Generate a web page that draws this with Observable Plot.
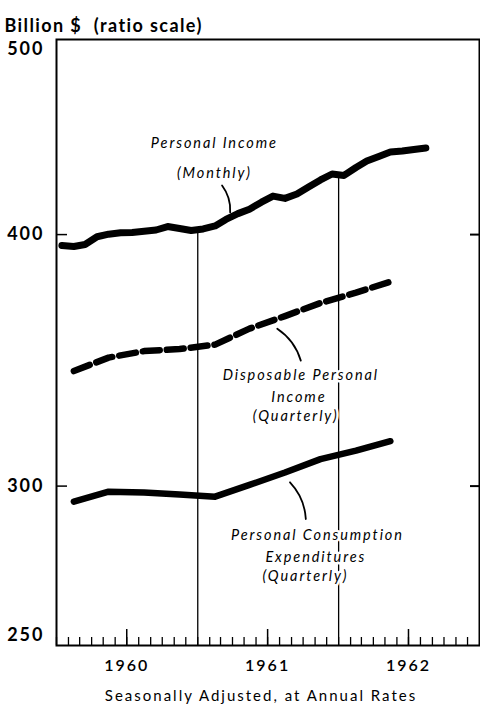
<!DOCTYPE html>
<html><head><meta charset="utf-8">
<script src="https://cdn.jsdelivr.net/npm/d3@7"></script>
<script src="https://cdn.jsdelivr.net/npm/@observablehq/plot@0.6"></script>
<style>
html,body{margin:0;padding:0;background:#fff;}
#chart svg{display:block;}
</style></head><body><div id="chart"></div>
<script>
// ---- data ----
const firstMonth = "1960-01";
const personalIncome = [395.0, 394.6, 395.5, 399.0, 400.2, 400.8, 401.0, 401.5, 402.1, 403.7, 402.8, 401.9,
  402.6, 404.0, 407.0, 409.7, 411.8, 415.1, 418.0, 416.9, 419.0, 422.4, 425.8, 428.7,
  428.0, 431.9, 435.1, 437.4, 439.6, 440.1, 440.9, 441.6];
const quarters = ["1960-Q1","1960-Q2","1960-Q3","1960-Q4","1961-Q1","1961-Q2","1961-Q3","1961-Q4","1962-Q1","1962-Q2"];
const disposableIncome = [342.2, 347.5, 350.1, 350.9, 352.7, 359.2, 364.4, 369.9, 374.3, 379.0];
const consumption = [294.7, 298.1, 297.8, 297.1, 296.4, 300.4, 304.7, 309.4, 312.4, 315.8];
const yearLabels = ["1960", "1961", "1962"];
const gridYears = ["1961", "1962"];
const yTickValues = [300, 400];
const yLabelsMid = [300, 400];
const titleText = "Billion $  (ratio scale)";
const captionText = "Seasonally Adjusted, at Annual Rates";
const annotations = [
  {text: "Personal Income", date: "1961-02-13", value: 443.9},
  {text: "(Monthly)", date: "1961-02-13", value: 428.9},
  {text: "Disposable Personal", date: "1961-09-25", value: 340.4},
  {text: "Income", date: "1961-09-20", value: 332.1},
  {text: "(Quarterly)", date: "1961-09-12", value: 324.8},
  {text: "Personal Consumption", date: "1961-11-07", value: 283.5},
  {text: "Expenditures", date: "1961-11-03", value: 276.5},
  {text: "(Quarterly)", date: "1961-10-07", value: 270.5}
];
const leaders = [
  {d1: "1961-03-05", v1: 423.1, d2: "1961-03-26", v2: 410.3},
  {d1: "1961-07-26", v1: 359.2, d2: "1961-09-25", v2: 346.3},
  {d1: "1961-08-28", v1: 301.3, d2: "1961-10-08", v2: 288.9}
];

// ---- derived tables ----
const start = new Date(Date.UTC(1960, 0, 1));
const end = new Date(Date.UTC(1963, 0, 1));
const parseD = s => new Date(s + "T00:00:00Z");
const m0 = parseD(firstMonth + "-01");
const piData = personalIncome.map((v, i) => ({date: d3.utcDay.offset(d3.utcMonth.offset(m0, i), 14), value: v}));
const qDate = q => { const [y, n] = q.split("-Q"); return new Date(Date.UTC(+y, (+n - 1) * 3 + 1, 15)); };
const dpiData = quarters.map((q, i) => ({date: qDate(q), value: disposableIncome[i]}));
const pceData = quarters.map((q, i) => ({date: qDate(q), value: consumption[i]}));
const monthTicks = d3.utcMonths(start, end);
const midYears = yearLabels.map(y => new Date(Date.UTC(+y, 6, 1)));
const piAt = t => {
  const i = d3.bisector(d => d.date).right(piData, t);
  const a = piData[Math.max(0, i - 1)], b = piData[Math.min(piData.length - 1, i)];
  if (a === b) return a.value;
  const f = (t - a.date) / (b.date - a.date);
  return a.value + f * (b.value - a.value);
};
const grid = gridYears.map(y => { const t = new Date(Date.UTC(+y, 0, 1)); return {date: t, top: piAt(t)}; });

const plot = Plot.plot({
  width: 480,
  height: 710,
  marginLeft: 56,
  marginRight: 1,
  marginTop: 39,
  marginBottom: 65,
  style: {fontFamily: "Lato, 'DejaVu Sans', sans-serif", background: "white", color: "black"},
  x: {type: "utc", domain: [start, end], axis: null},
  y: {type: "log", domain: [250, 500], axis: null},
  marks: [
    Plot.ruleX(grid, {x: "date", y1: 250, y2: "top", stroke: "black", strokeWidth: 1.3}),
    Plot.frame({stroke: "black", strokeWidth: 2}),
    Plot.axisX({ticks: monthTicks, tickSize: -8, tickFormat: () => "", label: null, strokeWidth: 1.3}),
    Plot.axisX({ticks: midYears, tickSize: -16, tickFormat: () => "", label: null, strokeWidth: 1.5}),
    Plot.axisY({anchor: "left", ticks: yTickValues, tickSize: -11, tickFormat: () => "", label: null, strokeWidth: 1.5}),
    Plot.axisY({anchor: "right", ticks: yTickValues, tickSize: -10, tickFormat: () => "", label: null, strokeWidth: 2}),
    Plot.text(yearLabels, {x: d => new Date(Date.UTC(+d, 6, 1)), frameAnchor: "bottom", dy: 25, fontSize: 16, fontWeight: 600, text: d => d}),
    Plot.text(yLabelsMid, {y: d => d, frameAnchor: "left", dx: -12, textAnchor: "end", fontSize: 18, fontWeight: "bold", text: d => String(d)}),
    Plot.text([500], {y: d => d, frameAnchor: "left", dx: -12, dy: 10, textAnchor: "end", fontSize: 18, fontWeight: "bold", text: d => String(d)}),
    Plot.text([250], {y: d => d, frameAnchor: "left", dx: -12, dy: -10, textAnchor: "end", fontSize: 18, fontWeight: "bold", text: d => String(d)}),
    Plot.text([titleText], {frameAnchor: "top-left", dx: -52, dy: -20, textAnchor: "start", fontSize: 18, fontWeight: "bold", text: d => d}),
    Plot.text([captionText], {frameAnchor: "bottom", dx: -7, dy: 55, fontSize: 15, text: d => d}),
    Plot.line(piData, {x: "date", y: "value", stroke: "black", strokeWidth: 7, strokeLinejoin: "round"}),
    Plot.line(dpiData, {x: "date", y: "value", stroke: "black", strokeWidth: 6.5, strokeDasharray: "17,7"}),
    Plot.line(pceData, {x: "date", y: "value", stroke: "black", strokeWidth: 6.5, strokeLinejoin: "round"}),
    Plot.arrow(leaders, {x1: d => parseD(d.d1), y1: "v1", x2: d => parseD(d.d2), y2: "v2", bend: 20, headLength: 0, stroke: "black", strokeWidth: 1.8}),
    Plot.text(annotations, {x: d => parseD(d.date), y: "value", text: "text", fontSize: 14.5, fontStyle: "italic", fill: "black", stroke: "white", strokeWidth: 5})
  ]
});
document.getElementById("chart").appendChild(plot);

// letter spacing to mimic the spaced-out lettering of the original
const annotSet = new Set(annotations.map(d => d.text));
d3.select(plot).selectAll("text").each(function() {
  const t = this.textContent;
  let ls = null;
  if (annotSet.has(t)) ls = "1.9px";
  else if (t === titleText) ls = "1.4px";
  else if (t === captionText) ls = "2px";
  else if (yearLabels.includes(t)) ls = "2px";
  else if (/^\d{3}$/.test(t)) ls = "2px";
  if (ls) this.style.letterSpacing = ls;
});
</script></body></html>
